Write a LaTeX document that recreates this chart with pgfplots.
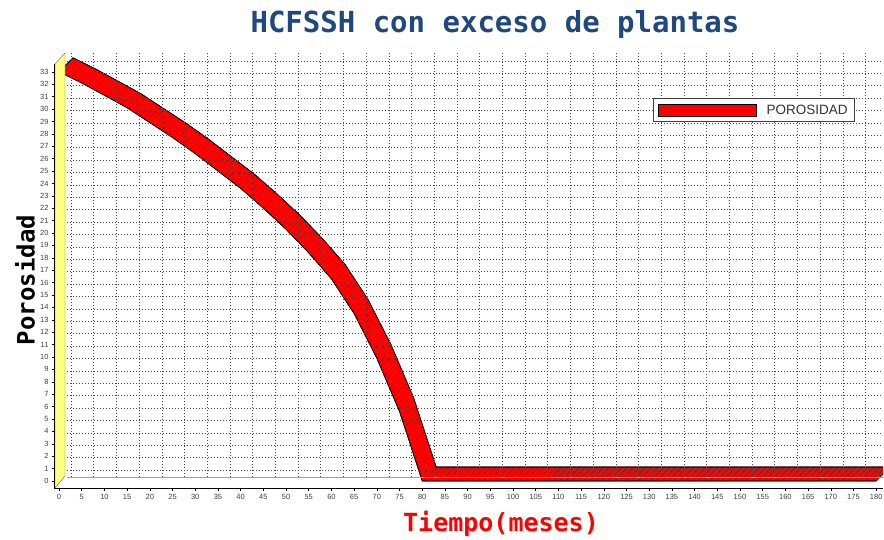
\documentclass[border=0pt]{standalone}
\usepackage{fontspec}
\setmainfont{Liberation Sans}
\newfontfamily\monofont{DejaVu Sans Mono}
\usepackage{pgfplots}
\pgfplotsset{compat=1.18}
\usepackage{pgfplotstable}
\usepgfplotslibrary{fillbetween}
\usetikzlibrary{patterns.meta}
\definecolor{titleblue}{RGB}{31,73,125}
\definecolor{wallyellow}{RGB}{255,255,128}

% porosidad vs tiempo (meses), front edge of the 3D ribbon
\pgfplotstableread{
mes porosidad
0   33
5   32.1
10  31.1
15  30.1
20  28.9
25  27.7
30  26.4
35  25.0
40  23.6
45  22.0
50  20.3
55  18.4
60  16.3
65  13.5
70  9.9
75  5.6
80  0
180 0
}\datos

\begin{document}
\begin{tikzpicture}[x=1pt,y=1pt]
% back wall with the grid (shifted by the 3D depth)
\begin{axis}[
    at={(66.5pt,61.6pt)}, anchor=south west,
    scale only axis, width=815.5pt, height=425.4pt,
    xmin=-1, xmax=178.64, ymin=-0.6, ymax=33.71,
    xtick={0,5,...,175}, ytick={0,1,...,33},
    xticklabels={}, yticklabels={},
    major tick length=0pt,
    grid=major,
    grid style={black!70, line width=0.5pt, dash pattern=on 1.6pt off 1.4pt},
    axis line style={draw=none}
]
\end{axis}
\draw[black!35, line width=0.6pt] (66.5,61.6) -- (884,61.6);
% yellow side wall
\filldraw[fill=wallyellow, draw=black!60, line width=0.4pt]
    (55,51) -- (55,475) -- (65,486) -- (65,63) -- cycle;
\draw[line width=1.6pt] (54.5,50) -- (54.5,475);

\begin{axis}[
    at={(54.5pt,50.6pt)}, anchor=south west,
    scale only axis, width=828.5pt, height=436.4pt,
    xmin=-1, xmax=181.5, ymin=-0.6, ymax=34.6,
    axis x line*=bottom, axis y line*=left,
    x axis line style={black, line width=1.2pt},
    y axis line style={draw=none},
    xtick={0,5,...,180}, ytick={0,1,...,33},
    tick align=outside, major tick length=2.5pt,
    tick style={black, line width=0.5pt},
    ticklabel style={font=\fontsize{7.5}{8}\selectfont, text=black!75},
    /pgf/number format/assume math mode=true,
    legend cell align=left,
    legend style={at={(0.722,0.8946)}, anchor=north west,
        draw=black!75, line width=1.2pt, fill=white,
        font=\fontsize{13.5}{15}\selectfont, text=black!80,
        inner xsep=5pt, inner ysep=4pt}
]
\addplot[draw=none, name path=front, forget plot] table[x=mes, y=porosidad] {\datos};
\addplot[draw=none, name path=back, forget plot]
    table[x expr=\thisrow{mes}+3.08, y expr=\thisrow{porosidad}+1.13] {\datos};
\addplot[fill=red, draw=black, line width=0.6pt, forget plot] fill between[of=front and back];
\addplot[pattern={Lines[angle=45, distance=4pt, line width=0.3pt]},
    pattern color=black!85, draw=black, line width=0.6pt, forget plot]
    fill between[of=front and back];
\addlegendimage{legend image code/.code={
    \draw[fill=red, draw=black, line width=0.8pt] (0pt,-6pt) rectangle (98pt,6pt);
    \path[draw=none, fill=none] (106pt,0pt) circle (0pt);}}
\addlegendentry{POROSIDAD}
\end{axis}

\node[font=\monofont\bfseries\fontsize{29}{30}\selectfont, text=titleblue, anchor=base]
    at (495,506) {HCFSSH con exceso de plantas};
\node[font=\monofont\bfseries\fontsize{25}{26}\selectfont, text=red, anchor=base]
    at (501,8) {Tiempo(meses)};
\node[font=\monofont\bfseries\fontsize{24}{25}\selectfont, rotate=90]
    at (25,259) {Porosidad};
\pgfresetboundingbox
\useasboundingbox (0,0) rectangle (884,539);
\end{tikzpicture}
\end{document}
